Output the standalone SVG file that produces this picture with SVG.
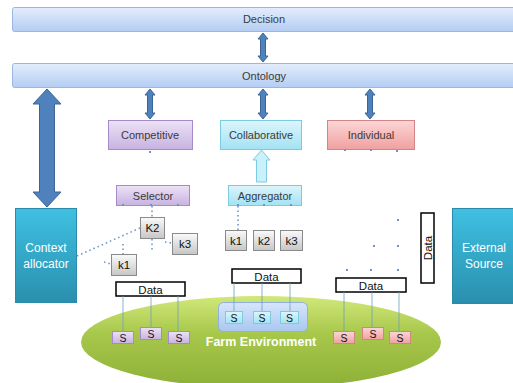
<svg xmlns="http://www.w3.org/2000/svg" width="513" height="383" viewBox="0 0 513 383">
<defs>
<linearGradient id="gBar" x1="0" y1="0" x2="0" y2="1"><stop offset="0" stop-color="#e3edfc"/><stop offset="1" stop-color="#b4cdf3"/></linearGradient>
<linearGradient id="gPur" x1="0" y1="0" x2="0" y2="1"><stop offset="0" stop-color="#ece2f5"/><stop offset="1" stop-color="#c8b2e2"/></linearGradient>
<linearGradient id="gCya" x1="0" y1="0" x2="0" y2="1"><stop offset="0" stop-color="#dcf5fc"/><stop offset="1" stop-color="#a3e2f3"/></linearGradient>
<linearGradient id="gPnk" x1="0" y1="0" x2="0" y2="1"><stop offset="0" stop-color="#fcd6d6"/><stop offset="1" stop-color="#f0a0a0"/></linearGradient>
<linearGradient id="gGry" x1="0" y1="0" x2="0" y2="1"><stop offset="0" stop-color="#fafafa"/><stop offset="1" stop-color="#c6c6c6"/></linearGradient>
<linearGradient id="gTeal" x1="0" y1="0" x2="0" y2="1"><stop offset="0" stop-color="#3fc0e2"/><stop offset="1" stop-color="#2a8fae"/></linearGradient>
<linearGradient id="gGrn" x1="0" y1="0" x2="0" y2="1"><stop offset="0" stop-color="#d2e87a"/><stop offset="0.4" stop-color="#a8c84c"/><stop offset="1" stop-color="#8cb036"/></linearGradient>
<linearGradient id="gIn" x1="0" y1="0" x2="0" y2="1"><stop offset="0" stop-color="#d6e6fb"/><stop offset="1" stop-color="#a9c7f0"/></linearGradient>
</defs>
<style>
text{font-family:"Liberation Sans","DejaVu Sans",sans-serif;text-anchor:middle}
.bar{fill:url(#gBar);stroke:#9cb6df;stroke-width:1}
.lbl{font-size:11px;fill:#3a3a3a}
.pur{fill:url(#gPur);stroke:#a58cc9}
.cya{fill:url(#gCya);stroke:#7ccbe0}
.pnk{fill:url(#gPnk);stroke:#d28585}
.gry{fill:url(#gGry);stroke:#8a8a8a}
.teal{fill:url(#gTeal);stroke:#2a8aa8}
.wt{font-size:12px;fill:#ffffff}
.kt{font-size:11.5px;fill:#111}
.st{font-size:10.5px;fill:#111}
.data{fill:#fff;stroke:#000;stroke-width:1.5}
.arr{fill:#4f81bd;stroke:#3b6597;stroke-width:1}
.ln{stroke:#6f9fbf;stroke-width:0.8;fill:none}
.dot{stroke:#6f95c8;stroke-width:1.6;stroke-dasharray:1.5 3;fill:none}
.pt{fill:#6f95c8}
</style>

<g id="decision"><rect class="bar" x="12.5" y="7.5" width="510" height="24" rx="2"/><text class="lbl" x="264" y="23">Decision</text></g>
<g id="ontology"><rect class="bar" x="12.5" y="63.5" width="510" height="24" rx="2"/><text class="lbl" x="264" y="79.5">Ontology</text></g>

<g id="competitive"><rect class="pur" x="108.5" y="120.5" width="84" height="29"/><text class="lbl" x="150" y="139">Competitive</text></g>
<g id="collaborative"><rect class="cya" x="220.5" y="120.5" width="81" height="29"/><text class="lbl" x="261" y="139">Collaborative</text></g>
<g id="individual"><rect class="pnk" x="327.5" y="120.5" width="87" height="29"/><text class="lbl" x="371" y="139">Individual</text></g>
<g id="selector"><rect class="pur" x="116.5" y="185.5" width="73" height="20"/><text class="lbl" x="153" y="199.5">Selector</text></g>
<g id="aggregator"><rect class="cya" x="228.5" y="185.5" width="73" height="20"/><text class="lbl" x="265" y="199.5">Aggregator</text></g>

<g id="context-allocator"><rect class="teal" x="15.5" y="208.5" width="61" height="94"/><text class="wt" x="46" y="252">Context</text><text class="wt" x="46" y="268">allocator</text></g>
<g id="external-source"><rect class="teal" x="452.5" y="208.5" width="70" height="95"/><text class="wt" x="484" y="252">External</text><text class="wt" x="484" y="268">Source</text></g>

<g id="k2-left"><rect class="gry" x="140.5" y="217.5" width="24" height="21"/><text class="kt" x="152.5" y="232">K2</text></g>
<g id="k3-left"><rect class="gry" x="172.5" y="233.5" width="25" height="21"/><text class="kt" x="185" y="248">k3</text></g>
<g id="k1-left"><rect class="gry" x="111.5" y="254.5" width="25" height="21"/><text class="kt" x="124" y="269">k1</text></g>
<g id="k1-mid"><rect class="gry" x="225.5" y="230.5" width="21" height="20"/><text class="kt" x="236" y="244.5">k1</text></g>
<g id="k2-mid"><rect class="gry" x="253.5" y="230.5" width="21" height="20"/><text class="kt" x="264" y="244.5">k2</text></g>
<g id="k3-mid"><rect class="gry" x="280.5" y="230.5" width="22" height="20"/><text class="kt" x="291.5" y="244.5">k3</text></g>

<g id="data-left"><rect class="data" x="116" y="282" width="69" height="14"/><text class="kt" x="150.5" y="293.5">Data</text></g>
<g id="data-mid"><rect class="data" x="232" y="269" width="69" height="14"/><text class="kt" x="266.5" y="280.5">Data</text></g>
<g id="data-right"><rect class="data" x="336" y="278" width="70" height="14"/><text class="kt" x="371" y="289.5">Data</text></g>
<g id="data-vertical"><rect class="data" x="421" y="213" width="13" height="70"/><text class="kt" transform="translate(431.5,248) rotate(-90)" x="0" y="0">Data</text></g>

<g id="farm-environment">
<ellipse cx="261" cy="342" rx="180" ry="46" fill="url(#gGrn)"/>
<rect x="218.5" y="302.5" width="89" height="29" rx="5" fill="url(#gIn)" stroke="#8fb0e0"/>
<text x="261" y="346" style="font-size:12.5px;font-weight:bold;fill:#ffffff">Farm Environment</text>
</g>
<g id="sensors-mid">
<rect class="cya" x="225.5" y="311.5" width="17" height="12"/><text class="st" x="234" y="321.5">S</text>
<rect class="cya" x="253.5" y="311.5" width="17" height="12"/><text class="st" x="262" y="321.5">S</text>
<rect class="cya" x="280.5" y="311.5" width="18" height="12"/><text class="st" x="289.5" y="321.5">S</text>
</g>
<g id="sensors-left">
<rect class="pur" x="112.5" y="331.5" width="21" height="12"/><text class="st" x="123" y="341.5">S</text>
<rect class="pur" x="140.5" y="327.5" width="21" height="12"/><text class="st" x="151" y="337.5">S</text>
<rect class="pur" x="168.5" y="331.5" width="21" height="12"/><text class="st" x="179" y="341.5">S</text>
</g>
<g id="sensors-right">
<rect class="pnk" x="333.5" y="331.5" width="21" height="12"/><text class="st" x="344" y="341.5">S</text>
<rect class="pnk" x="362.5" y="327.5" width="21" height="12"/><text class="st" x="373" y="337.5">S</text>
<rect class="pnk" x="389.5" y="331.5" width="21" height="12"/><text class="st" x="400" y="341.5">S</text>
</g>

<g id="connectors">
<path class="arr" d="M263,33 L268,39 L265.5,39 L265.5,56 L268,56 L263,62 L258,56 L260.5,56 L260.5,39 L258,39 Z"/>
<path class="arr" d="M47,89 L61,104 L54.5,104 L54.5,192 L61,192 L47,207 L33,192 L39.5,192 L39.5,104 L33,104 Z"/>
<path class="arr" d="M150,89 L155,95 L152.5,95 L152.5,113 L155,113 L150,119 L145,113 L147.5,113 L147.5,95 L145,95 Z"/>
<path class="arr" d="M263,89 L268,95 L265.5,95 L265.5,113 L268,113 L263,119 L258,113 L260.5,113 L260.5,95 L258,95 Z"/>
<path class="arr" d="M370,89 L375,95 L372.5,95 L372.5,113 L375,113 L370,119 L365,113 L367.5,113 L367.5,95 L365,95 Z"/>
<path d="M261.5,150 L270,160 L266.5,160 L266.5,182 L256.5,182 L256.5,160 L253,160 Z" fill="#c9f1fb" stroke="#7ccbe0"/>
<path class="dot" d="M77,256 L140,228"/>
<path class="dot" d="M152,206 L152,217 M152,239 L152,250 M165,242 L172,243 M123,244 L123,254 M104,262 L111,264 M238,206 L238,230"/>
<path class="ln" d="M123,296 V331 M151,296 V327 M178,296 V331 M234,283 V311 M262,283 V311 M290,283 V311 M344,292 V331 M372,292 V327 M399,292 V331"/>
<g class="pt">
<rect x="237" y="204" width="2" height="2"/><rect x="263" y="204" width="2" height="2"/><rect x="290" y="204" width="2" height="2"/>
<rect x="122" y="204" width="2" height="2"/><rect x="150" y="204" width="2" height="2"/><rect x="177" y="204" width="2" height="2"/>
<rect x="344" y="149" width="2" height="2"/><rect x="370" y="149" width="2" height="2"/><rect x="396" y="150" width="2" height="2"/>
<rect x="149" y="151" width="2" height="2"/>
<rect x="397" y="219" width="2" height="2"/><rect x="373" y="245" width="2" height="2"/><rect x="397" y="245" width="2" height="2"/>
<rect x="346" y="269" width="2" height="2"/><rect x="370" y="269" width="2" height="2"/><rect x="397" y="269" width="2" height="2"/>
</g>
</g>
</svg>
